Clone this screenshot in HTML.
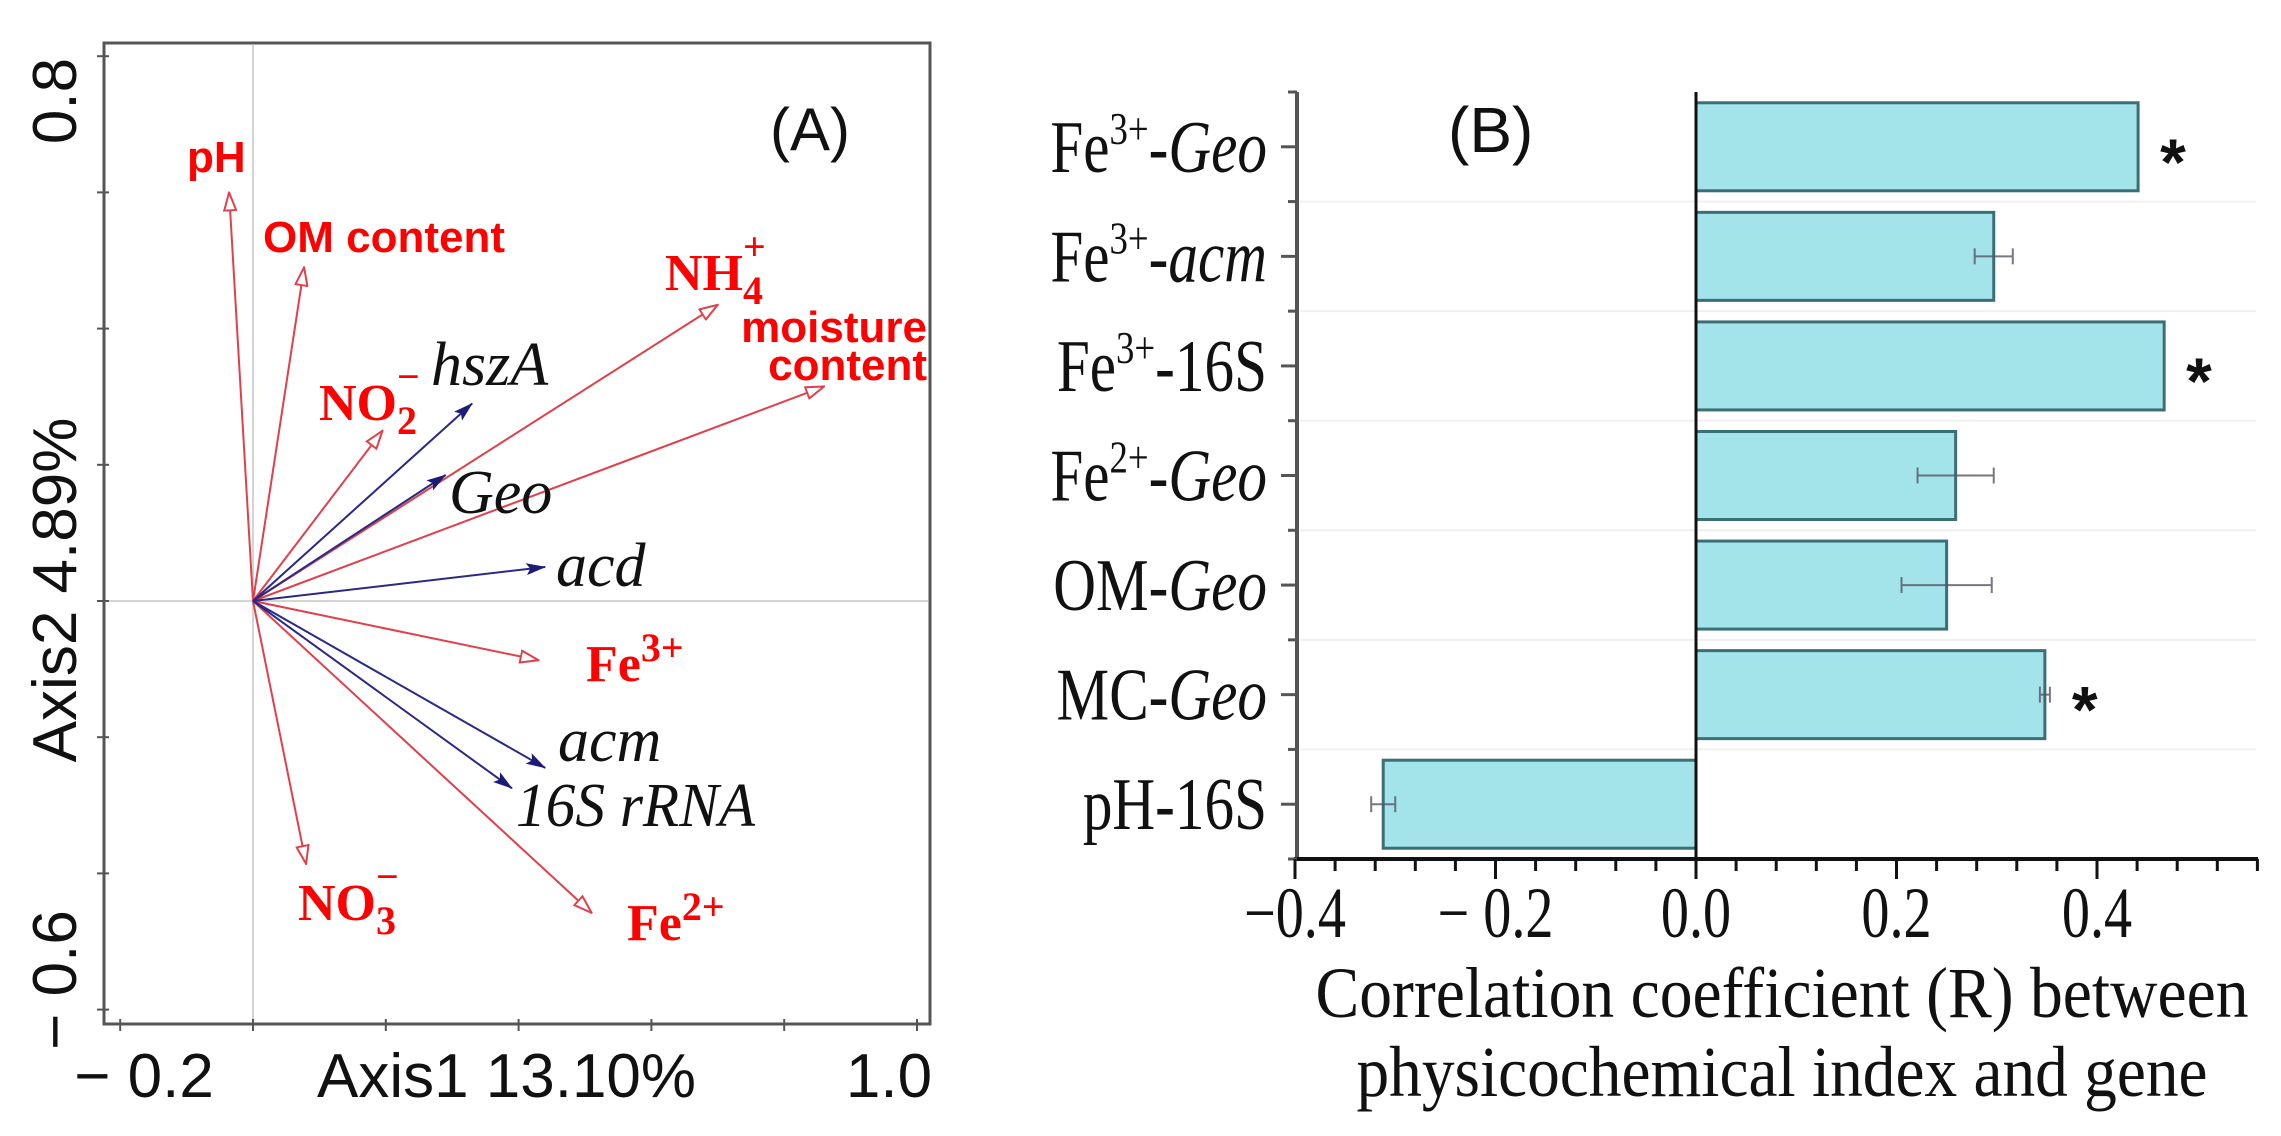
<!DOCTYPE html>
<html><head><meta charset="utf-8"><style>
html,body{margin:0;padding:0;background:#fff}
svg{display:block}
.sans{font-family:"Liberation Sans",sans-serif}
.serif{font-family:"Liberation Serif",serif}
</style></head><body>
<svg id="fig" width="2281" height="1136" viewBox="0 0 2281 1136" xmlns="http://www.w3.org/2000/svg">
<defs>
<marker id="openHead" viewBox="0 0 20 14" refX="19" refY="7" markerWidth="20" markerHeight="14" markerUnits="userSpaceOnUse" orient="auto">
<path d="M1,1 L19,7 L1,13 Z" fill="#fff" stroke="#e0404a" stroke-width="2"/>
</marker>
<marker id="solidHead" viewBox="0 0 20 14" refX="19" refY="7" markerWidth="20" markerHeight="14" markerUnits="userSpaceOnUse" orient="auto">
<path d="M0,1 L20,7 L0,13 L4,7 Z" fill="#1c1c78"/>
</marker>
</defs>

<g id="panelA">
<rect x="104" y="43" width="826" height="981" fill="none" stroke="#555" stroke-width="3"/>
<g id="aGrid"></g>
<g id="aTicks"></g>
<g id="aArrows"></g>
<g class="sans" font-size="62" fill="#111">
<text x="76" y="101" transform="rotate(-90 76 101)" text-anchor="middle">0.8</text>
<text x="76" y="980" transform="rotate(-90 76 980)" text-anchor="middle">− 0.6</text>
<text x="76" y="590" transform="rotate(-90 76 590)" text-anchor="middle">Axis2 4.89%</text>
<text x="144" y="1097" text-anchor="middle">− 0.2</text>
<text x="889" y="1097" text-anchor="middle">1.0</text>
<text x="317" y="1097" textLength="379" lengthAdjust="spacingAndGlyphs">Axis1 13.10%</text>
<text x="770" y="150" font-size="60">(A)</text>
</g>
<g class="sans" font-weight="bold" fill="#ff0000" font-size="44">
<text x="187" y="172">pH</text>
<text x="263" y="252">OM content</text>
<text x="927" y="342" text-anchor="end">moisture</text>
<text x="927" y="380" text-anchor="end">content</text>
</g>
<g class="serif" font-weight="bold" fill="#ff0000" font-size="52">
<text x="319" y="420">NO<tspan font-size="40" dy="14">2</tspan><tspan font-size="40" dx="-20" dy="-44">−</tspan></text>
<text x="665" y="290">NH<tspan font-size="40" dy="14">4</tspan><tspan font-size="40" dx="-20" dy="-44">+</tspan></text>
<text x="586" y="681">Fe<tspan font-size="40" dy="-20">3+</tspan></text>
<text x="298" y="920">NO<tspan font-size="40" dy="14">3</tspan><tspan font-size="40" dx="-20" dy="-44">−</tspan></text>
<text x="627" y="940">Fe<tspan font-size="40" dy="-20">2+</tspan></text>
</g>
<g class="serif" font-style="italic" fill="#111" font-size="62">
<text x="431" y="385">hszA</text>
<text x="449" y="513">Geo</text>
<text x="556" y="586">acd</text>
<text x="558" y="761">acm</text>
<text x="516" y="826" textLength="239" lengthAdjust="spacingAndGlyphs">16S rRNA</text>
</g>
</g>

<g id="panelB">
<g id="bGrid"></g>
<g id="bBars"></g>
<g id="bAxes"></g>
<text x="1448" y="152" class="sans" font-size="64" fill="#111">(B)</text>
<g class="serif" font-size="72" fill="#111">
<text x="1782" y="1017" text-anchor="middle" textLength="933" lengthAdjust="spacingAndGlyphs">Correlation coefficient (R) between</text>
<text x="1782" y="1096" text-anchor="middle" textLength="851" lengthAdjust="spacingAndGlyphs">physicochemical index and gene</text>
</g>
</g>
</svg>
<script>
// ---------- Panel A data ----------
const envNames = ["pH","OM content","NO2-","NH4+","moisture content","Fe3+","NO3-","Fe2+"];
const envX = [-0.036, 0.077, 0.195, 0.70, 0.86, 0.43, 0.08, 0.51];
const envY = [0.60, 0.49, 0.25, 0.435, 0.315, -0.087, -0.386, -0.458];
const geneNames = ["hszA","Geo","acd","acm","16S rRNA"];
const geneX = [0.33, 0.29, 0.44, 0.44, 0.39];
const geneY = [0.29, 0.185, 0.05, -0.245, -0.275];
const aXTicks = [-0.2, 0, 0.2, 0.4, 0.6, 0.8, 1.0];
const aYTicks = [0.8, 0.6, 0.4, 0.2, 0, -0.2, -0.4, -0.6];

// ---------- Panel B data ----------
const categories = ["Fe3+-Geo","Fe3+-acm","Fe3+-16S","Fe2+-Geo","OM-Geo","MC-Geo","pH-16S"];
const values = [0.441, 0.297, 0.467, 0.259, 0.250, 0.348, -0.312];
const errors = [0, 0.019, 0, 0.038, 0.045, 0.005, 0.012];
const significant = [true, false, true, false, false, true, false];
const bXTicks = [-0.4, -0.2, 0.0, 0.2, 0.4];
const bXTickLabels = ["−0.4", "− 0.2", "0.0", "0.2", "0.4"];

const NS = "http://www.w3.org/2000/svg";
function mk(tag, attrs, parent){
  const e = document.createElementNS(NS, tag);
  for (const k in attrs) e.setAttribute(k, attrs[k]);
  parent.appendChild(e);
  return e;
}

const ax = v => 253 + v * 664;
const ay = v => 601 - v * 681;
const aGrid = document.getElementById('aGrid');
let gl = mk('line', {x1: ax(0), x2: ax(0), y1: 45, y2: 1022, stroke: '#d4d4d4', 'stroke-width': 2}, aGrid);


gl = mk('line', {x1: 106, x2: 928, y1: ay(0), y2: ay(0), stroke: '#d4d4d4', 'stroke-width': 2}, aGrid);



const aTicks = document.getElementById('aTicks');
aXTicks.forEach(v => {
  const t = mk('line', {x1: ax(v), x2: ax(v), y1: 1019, y2: 1031, stroke: '#555', 'stroke-width': 2}, aTicks);
  
  
});
aYTicks.forEach(v => {
  const t = mk('line', {x1: 97, x2: 109, y1: ay(v), y2: ay(v), stroke: '#555', 'stroke-width': 2}, aTicks);
  
  
});

const aArrows = document.getElementById('aArrows');
envNames.forEach((n, i) => {
  const l = mk('line', {x1: ax(0), y1: ay(0), x2: ax(envX[i]), y2: ay(envY[i]), stroke: '#e0404a', 'stroke-width': 2, 'marker-end': 'url(#openHead)'}, aArrows);
  
  
});
geneNames.forEach((n, i) => {
  const l = mk('line', {x1: ax(0), y1: ay(0), x2: ax(geneX[i]), y2: ay(geneY[i]), stroke: '#2a2a86', 'stroke-width': 2, 'marker-end': 'url(#solidHead)'}, aArrows);
  
  
});

const bx = v => 1696 + v * 1002.5;
const bTop = 92, bBottom = 859, slot = (bBottom - bTop) / categories.length;
const by = i => bTop + slot * (i + 0.5);
const bGrid = document.getElementById('bGrid');
for (let i = 1; i < categories.length; i++) {
  const g = mk('line', {x1: 1300, x2: 2256, y1: bTop + slot * i, y2: bTop + slot * i, stroke: '#f0f0f0', 'stroke-width': 2}, bGrid);
  
  
}
const bBars = document.getElementById('bBars');
const barH = 88;
categories.forEach((c, i) => {
  const v = values[i];
  const x0 = Math.min(bx(0), bx(v)), w = Math.abs(bx(v) - bx(0));
  const r = mk('rect', {x: x0, y: by(i) - barH / 2, width: w, height: barH, fill: '#a3e4eb', stroke: '#3a6f75', 'stroke-width': 3}, bBars);
  
  
  if (errors[i] > 0) {
    const e1 = bx(v - errors[i]), e2 = bx(v + errors[i]);
    const eg = mk('g', {stroke: '#556', 'stroke-width': 2, opacity: 0.8}, bBars);
    
    
    mk('line', {x1: e1, x2: e2, y1: by(i), y2: by(i)}, eg);
    mk('line', {x1: e1, x2: e1, y1: by(i) - 8, y2: by(i) + 8}, eg);
    mk('line', {x1: e2, x2: e2, y1: by(i) - 8, y2: by(i) + 8}, eg);
  }
  if (significant[i]) {
    const s = mk('text', {x: bx(v + errors[i]) + 22, y: by(i) + 38, 'font-family': '"Liberation Sans",sans-serif', 'font-size': 66, 'font-weight': 'bold', fill: '#111'}, bBars);
    s.textContent = '*';
    
    
  }
  const m = c.match(/^(Fe)(\d\+)-(.*)$/);
  const lab = mk('text', {x: 0, y: 0, transform: 'translate(1267,' + (by(i) + 25) + ') scale(0.8,1)', 'text-anchor': 'end', 'font-family': '"Liberation Serif",serif', 'font-size': 74, fill: '#111'}, bBars);
  
  
  let base, sup = null, gene;
  if (m) { base = 'Fe'; sup = m[2]; gene = m[3]; }
  else { const p = c.split('-'); base = p[0]; gene = p.slice(1).join('-'); }
  const t1 = mk('tspan', {}, lab); t1.textContent = base;
  if (sup) { const t2 = mk('tspan', {'font-size': 46, dy: -28}, lab); t2.textContent = sup; }
  const t3 = mk('tspan', sup ? {dy: 28} : {}, lab); t3.textContent = '-';
  const t4 = mk('tspan', gene === '16S' ? {} : {'font-style': 'italic'}, lab); t4.textContent = gene;
});

const bAxes = document.getElementById('bAxes');
let a = mk('line', {x1: 1297, x2: 1297, y1: bTop, y2: bBottom + 2, stroke: '#555', 'stroke-width': 4}, bAxes);


a = mk('line', {x1: 1294, x2: 2258, y1: bBottom, y2: bBottom, stroke: '#111', 'stroke-width': 4}, bAxes);


a = mk('line', {x1: bx(0), x2: bx(0), y1: bTop, y2: bBottom, stroke: '#111', 'stroke-width': 3}, bAxes);


for (let i = 0; i <= categories.length; i++) {
  const t = mk('line', {x1: 1288, x2: 1297, y1: bTop + slot * i, y2: bTop + slot * i, stroke: '#555', 'stroke-width': 3}, bAxes);
  
  
}
categories.forEach((c, i) => {
  const t = mk('line', {x1: 1281, x2: 1297, y1: by(i), y2: by(i), stroke: '#555', 'stroke-width': 3}, bAxes);
  
  
});
for (let k = 0; k <= 24; k++) {
  const v = -0.4 + k * 0.04;
  if (bx(v) > 2258) break;
  const major = k % 5 === 0;
  const t = mk('line', {x1: bx(v), x2: bx(v), y1: bBottom, y2: bBottom + (major ? 20 : 12), stroke: '#111', 'stroke-width': 3}, bAxes);
  
  
}
bXTicks.forEach((v, i) => {
  const t = mk('text', {x: 0, y: 0, transform: 'translate(' + bx(v) + ',937) scale(0.78,1)', 'text-anchor': 'middle', 'font-family': '"Liberation Serif",serif', 'font-size': 72, fill: '#111'}, bAxes);
  t.textContent = bXTickLabels[i];
  
  
});
</script>
</body></html>
